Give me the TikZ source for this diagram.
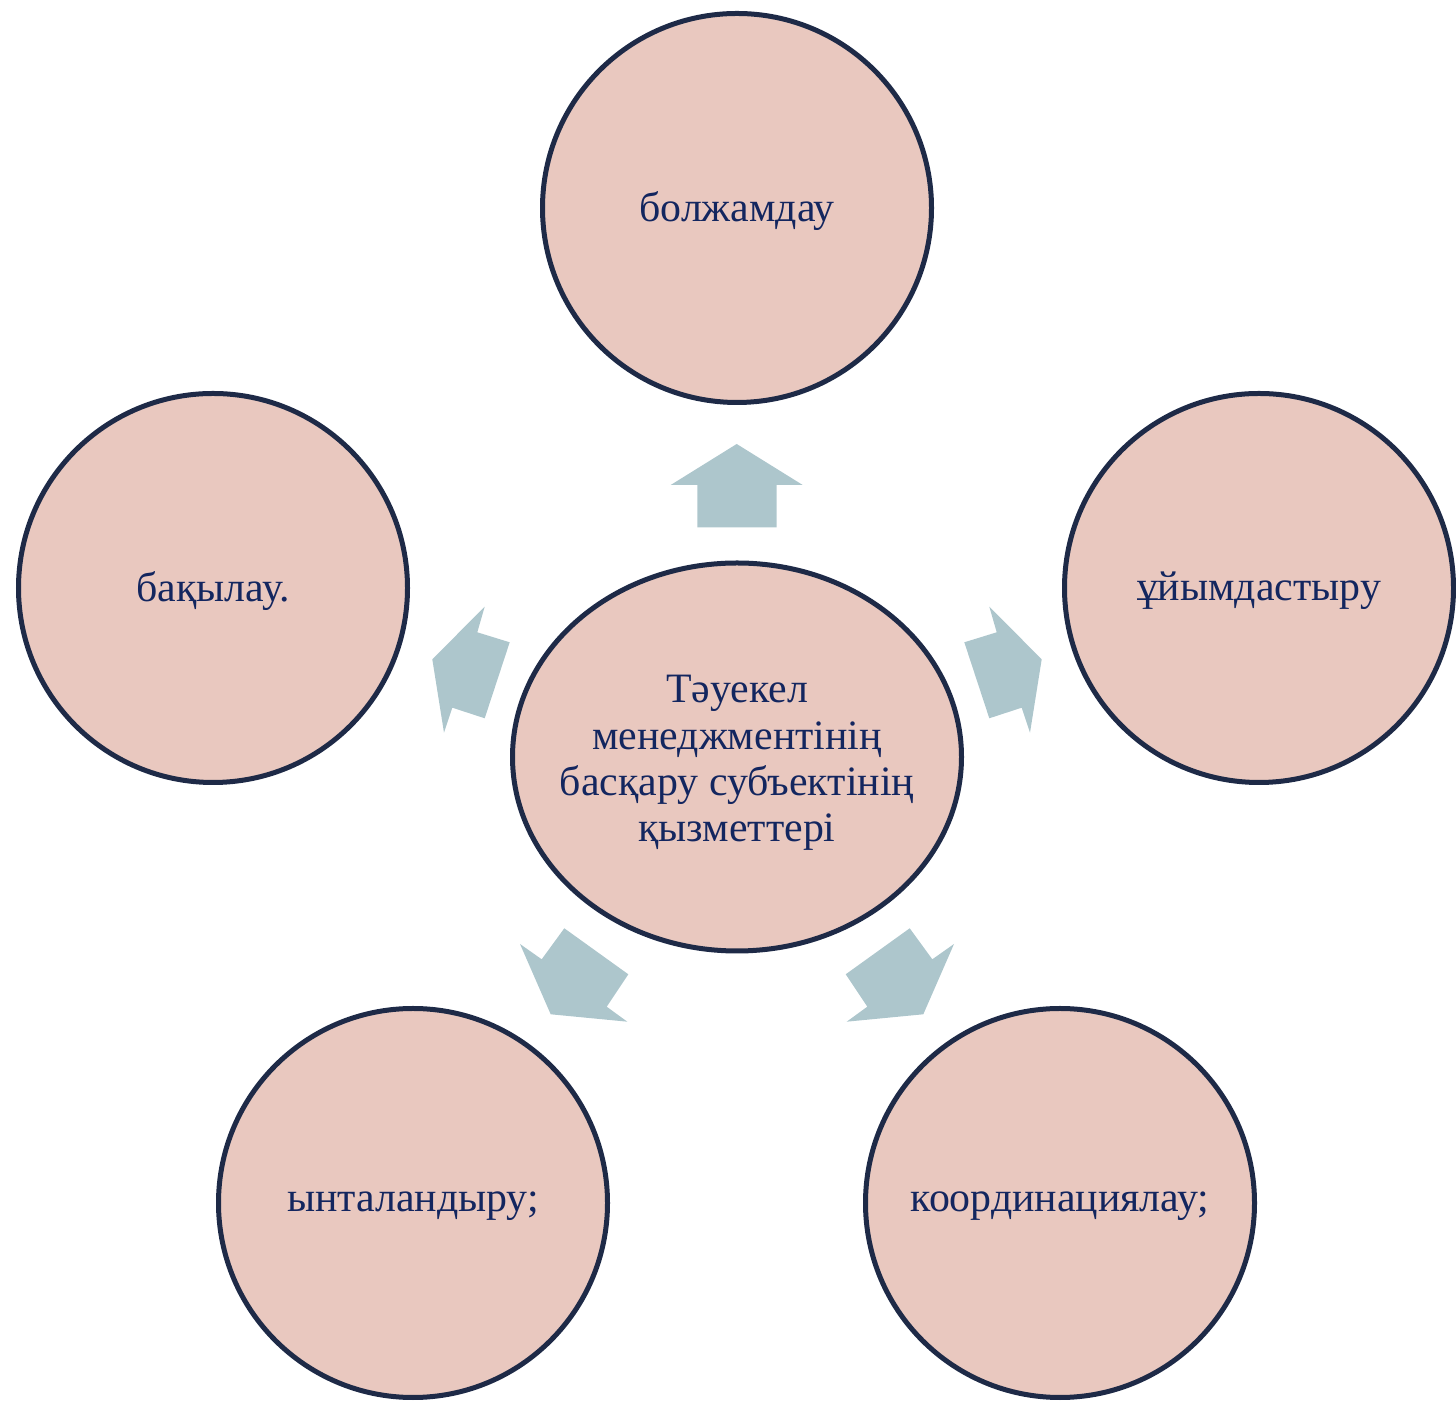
\documentclass[tikz,border=0pt]{standalone}
\usetikzlibrary{shapes.geometric}
\usepackage{fontspec}
\setmainfont{Liberation Serif}
\definecolor{cfill}{HTML}{E9C8BF}
\definecolor{cline}{HTML}{1E2A47}
\definecolor{ctext}{HTML}{13265F}
\definecolor{carrow}{HTML}{ADC6CC}
\begin{document}
\begin{tikzpicture}[x=1bp,y=1bp,
  bubble/.style={circle,draw=cline,fill=cfill,line width=5bp,minimum size=389bp,inner sep=0pt,text=ctext,font=\fontsize{42}{46}\selectfont,align=center},
  bubbletext/.style={text=ctext,font=\fontsize{42}{46}\selectfont,align=center,inner sep=0pt},
  hubshape/.style={draw=cline,fill=cfill,line width=5bp},
  hubtext/.style={text=ctext,font=\fontsize{42}{46.5}\selectfont,align=center,inner sep=0pt},
  blockarrow/.style={fill=carrow,draw=none}]
\useasboundingbox (0,0) rectangle (1456,1401);
\path[hubshape] (737,644) ellipse [x radius=224.5, y radius=194];
\node[hubtext] (c) at (737,638) {Тәуекел\\менеджментінің\\басқару субъектінің\\қызметтері};
\node[bubble] (top) at (737,1193) {};
\node[bubble] (right) at (1259,813) {};
\node[bubble] (left) at (213,813) {};
\node[bubble] (bl) at (413,198) {};
\node[bubble] (br) at (1060,198) {};
\node[bubbletext] (ttop) at (737,1190) {болжамдау};
\node[bubbletext] (tright) at (1259,810) {ұйымдастыру};
\node[bubbletext] (tleft) at (213,810) {бақылау.};
\node[bubbletext] (tbl) at (413,195) {ынталандыру;};
\node[bubbletext] (tbr) at (1060,195) {координациялау;};
% block arrows
\fill[blockarrow] (736.7,957) -- (802.7,916) -- (776.7,916) -- (776.7,873.7) -- (697.3,873.7) -- (697.3,916) -- (670.7,916) -- cycle;
\fill[blockarrow] (1041.7,741.7) -- (989.3,794.3) -- (996.7,768.7) -- (964.3,758.7) -- (989.3,682.7) -- (1021.7,693.3) -- (1030,668.3) -- cycle;
\fill[blockarrow] (432.3,741.7) -- (484.7,794.3) -- (477.3,768.7) -- (509.7,758.7) -- (484.7,682.7) -- (452.3,693.3) -- (444,668.3) -- cycle;
\fill[blockarrow] (550.7,386.7) -- (520,457) -- (541.7,441.7) -- (564.3,472.7) -- (628.3,426.7) -- (606.7,394.3) -- (627.3,379.3) -- cycle;
\fill[blockarrow] (923.3,386.7) -- (954,457) -- (932.3,441.7) -- (909.7,472.7) -- (845.7,426.7) -- (867.3,394.3) -- (846.7,379.3) -- cycle;
\end{tikzpicture}
\end{document}
